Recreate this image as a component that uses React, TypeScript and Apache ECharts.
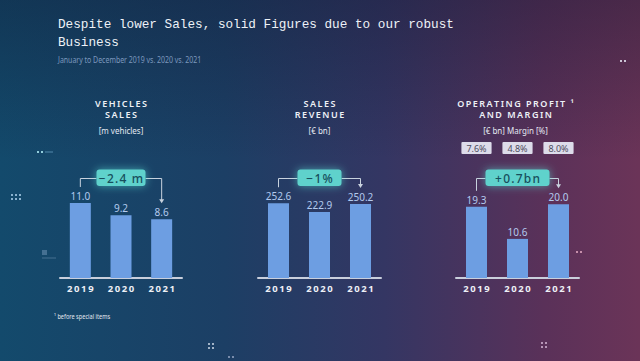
import React, { useEffect, useRef } from "react";
import * as echarts from "echarts";

const years = ["2019", "2020", "2021"];
const vehicles = [11.0, 9.2, 8.6];
const revenue = [252.6, 222.9, 250.2];
const profit = [19.3, 10.6, 20.0];
const margins = [7.6, 4.8, 8.0];
const deltas = ["\u22122.4 m", "\u22121%", "+0.7bn"];
const panelTitles = [
  ["VEHICLES", "SALES"],
  ["SALES", "REVENUE"],
  ["OPERATING PROFIT \u00b9", "AND MARGIN"],
];
const panelUnits = ["[m vehicles]", "[\u20ac bn]", "[\u20ac bn] Margin [%]"];
const yMaxes = [13.93, 321, 25.75];
const titleLines = [
  "Despite lower Sales, solid Figures due to our robust",
  "Business",
];
const subtitle = "January to December 2019 vs. 2020 vs. 2021";
const footnote = "\u00b9 before special items";

const gridLefts = [60, 258, 456];
const gridWidths = [122, 123, 123];
const deltaWidths = [49, 44, 64];
const GRID_TOP = 183;
const GRID_H = 95;

const spaced = (s: string, sep = "\u2009") => s.split("").join(sep);

export default function App() {
  const ref = useRef<HTMLDivElement>(null);
  useEffect(() => {
    if (!ref.current) return;
    const chart = echarts.init(ref.current, null, { renderer: "svg" });
    const seriesData = [vehicles, revenue, profit];
    const option: any = {
      animation: false,
      backgroundColor: new echarts.graphic.LinearGradient(0, 0, 1, 0, [
        { offset: 0, color: "#134a6c" },
        { offset: 0.35, color: "#1c3f65" },
        { offset: 0.6, color: "#343663" },
        { offset: 0.85, color: "#5a3159" },
        { offset: 1, color: "#6b3458" },
      ]),
      grid: gridLefts.map((l, i) => ({
        left: l,
        width: gridWidths[i],
        top: GRID_TOP,
        height: GRID_H,
      })),
      xAxis: gridLefts.map((_, i) => ({
        type: "category",
        gridIndex: i,
        data: years,
        axisLine: { lineStyle: { color: "#c9cfdc", width: 2 } },
        axisTick: { show: false },
        axisLabel: {
          color: "#eef0f6",
          fontWeight: "bold",
          fontSize: 9.5,
          fontFamily: "Noto Sans",
          margin: 5,
          formatter: (v: string) => spaced(v),
        },
      })),
      yAxis: gridLefts.map((_, i) => ({
        type: "value",
        gridIndex: i,
        min: 0,
        max: yMaxes[i],
        show: false,
        splitLine: { show: false },
      })),
      series: [
        ...seriesData.map((arr, i) => ({
          type: "bar",
          xAxisIndex: i,
          yAxisIndex: i,
          data: arr,
          barWidth: 21,
          itemStyle: { color: "#6d9ee2" },
          label: {
            show: true,
            position: "top",
            distance: 2,
            color: "#b3caee",
            fontSize: 10,
            fontFamily: "Noto Sans",
            formatter: (p: any) => Number(p.value).toFixed(1),
          },
        })),
        {
          type: "scatter",
          xAxisIndex: 2,
          yAxisIndex: 2,
          symbolSize: 0,
          itemStyle: { opacity: 1 },
          data: margins.map((m, i) => ({ value: [years[i], yMaxes[2]], margin: m })),
          label: {
            show: true,
            position: "inside",
            offset: [0, -35],
            formatter: (p: any) => p.data.margin.toFixed(1) + "%",
            color: "#4d4d5e",
            fontSize: 9,
            fontFamily: "Noto Sans",
            backgroundColor: "#dddcea",
            padding: [1, 5],
            lineHeight: 10,
            borderRadius: 1,
          },
        },
      ],
    };
    chart.setOption(option);

    const g: any[] = [];
    g.push({
      type: "rect",
      silent: true,
      z: -1,
      shape: { x: 0, y: 0, width: 640, height: 160 },
      style: {
        fill: new echarts.graphic.LinearGradient(0, 0, 0, 1, [
          { offset: 0, color: "rgba(15,20,45,0.35)" },
          { offset: 1, color: "rgba(15,20,45,0)" },
        ]),
      },
    });
    titleLines.forEach((t, i) => {
      g.push({
        type: "text",
        x: 58,
        y: 24 + i * 18.5,
        style: {
          text: t,
          fill: "#eef2f7",
          fontSize: 12.7,
          fontFamily: "Liberation Mono",
          align: "left",
          verticalAlign: "middle",
          textAlign: "left",
          textVerticalAlign: "middle",
        },
      });
    });
    g.push({
      type: "text",
      x: 58,
      y: 60,
      scaleX: 0.82,
      style: {
        text: subtitle,
        fill: "#7d98bd",
        fontSize: 8.5,
        fontFamily: "Noto Sans",
        align: "left",
        verticalAlign: "middle",
        textAlign: "left",
        textVerticalAlign: "middle",
      },
    });
    g.push({
      type: "text",
      x: 54,
      y: 316,
      scaleX: 0.8,
      style: {
        text: footnote,
        fill: "#e4e8f0",
        fontSize: 7,
        fontFamily: "Noto Sans",
        align: "left",
        verticalAlign: "middle",
        textAlign: "left",
        textVerticalAlign: "middle",
      },
    });

    seriesData.forEach((arr, gi) => {
      const pts = arr.map((v, i) =>
        chart.convertToPixel({ gridIndex: gi } as any, [i, v]) as number[]
      );
      const cx = pts[1][0];
      const headX = gridLefts[gi] + gridWidths[gi] / 2 - (gi === 2 ? 2 : 0);
      panelTitles[gi].forEach((t, k) => {
        g.push({
          type: "text",
          x: headX,
          y: 103 + k * 11.5,
          style: {
            text: spaced(t),
            fill: "#eef1f7",
            fontSize: 9,
            fontWeight: 600,
            fontFamily: "Noto Sans",
            align: "center",
            verticalAlign: "middle",
            textAlign: "center",
            textVerticalAlign: "middle",
          },
        });
      });
      g.push({
        type: "text",
        x: headX,
        y: 130,
        style: {
          text: panelUnits[gi],
          fill: "#e4e9f2",
          fontSize: 8,
          fontFamily: "Noto Sans",
          align: "center",
          verticalAlign: "middle",
          textAlign: "center",
          textVerticalAlign: "middle",
        },
      });
      const w = deltaWidths[gi];
      const hy = 178.5;
      const x0 = pts[0][0];
      const x2 = pts[2][0];
      const y0 = pts[0][1] - 16;
      const y2 = pts[2][1] - 16;
      const lineStyle = { stroke: "#c8d2de", lineWidth: 1, fill: null };
      g.push({
        type: "polyline",
        shape: { points: [[x0, y0], [x0, hy], [cx - w / 2, hy]] },
        style: lineStyle,
      });
      g.push({
        type: "polyline",
        shape: { points: [[cx + w / 2, hy], [x2, hy], [x2, y2 - 3]] },
        style: lineStyle,
      });
      g.push({
        type: "polygon",
        shape: { points: [[x2 - 2.5, y2 - 4], [x2 + 2.5, y2 - 4], [x2, y2]] },
        style: { fill: "#c8d2de" },
      });
      g.push({
        type: "rect",
        shape: { x: cx - w / 2, y: 169.5, width: w, height: 16.5, r: 3 },
        style: {
          fill: "#5fd2cc",
          shadowBlur: 8,
          shadowColor: "rgba(90,225,215,0.6)",
        },
      });
      g.push({
        type: "text",
        x: cx,
        y: 178,
        style: {
          text: spaced(deltas[gi], "\u200a"),
          fill: "#174f5c",
          fontSize: 12,
          fontWeight: 500,
          fontFamily: "Noto Sans",
          align: "center",
          verticalAlign: "middle",
          textAlign: "center",
          textVerticalAlign: "middle",
        },
      });
    });

    const dots: [number, number, string][] = [
      [37, 151, "#a8e6f0"], [41, 151, "#a8e6f0"],
      [11, 194, "#9fc4e0"], [15, 194, "#9fc4e0"], [19, 194, "#9fc4e0"],
      [11, 198, "#9fc4e0"], [15, 198, "#9fc4e0"], [19, 198, "#9fc4e0"],
      [576, 251, "#d8a0b8"], [580, 251, "#d8a0b8"],
      [620, 60, "#e0e0ec"], [624, 60, "#e0e0ec"],
      [208, 343, "#b8c8d8"], [212, 343, "#b8c8d8"], [208, 347, "#b8c8d8"], [212, 347, "#b8c8d8"],
      [228, 356, "#8a9ab8"], [232, 356, "#8a9ab8"],
      [541, 342, "#c8a8c8"], [545, 342, "#c8a8c8"], [541, 346, "#c8a8c8"], [545, 346, "#c8a8c8"],
    ];
    dots.forEach(([x, y, c]) =>
      g.push({
        type: "rect",
        silent: true,
        shape: { x, y, width: 2, height: 2 },
        style: { fill: c, opacity: 0.85 },
      })
    );
    g.push({
      type: "line",
      silent: true,
      shape: { x1: 45, y1: 152, x2: 53, y2: 152 },
      style: { stroke: "#6fa8c8", lineWidth: 0.7 },
    });
    g.push({
      type: "rect",
      silent: true,
      shape: { x: 42, y: 250, width: 5, height: 5 },
      style: { fill: "rgba(160,190,220,0.35)" },
    });
    g.push({
      type: "line",
      silent: true,
      shape: { x1: 42, y1: 258, x2: 56, y2: 258 },
      style: { stroke: "rgba(160,190,220,0.35)", lineWidth: 1 },
    });

    chart.setOption({ graphic: g });
    return () => chart.dispose();
  }, []);
  return (
    <div
      ref={ref}
      style={{ position: "absolute", left: 0, top: 0, width: 640, height: 361 }}
    />
  );
}
